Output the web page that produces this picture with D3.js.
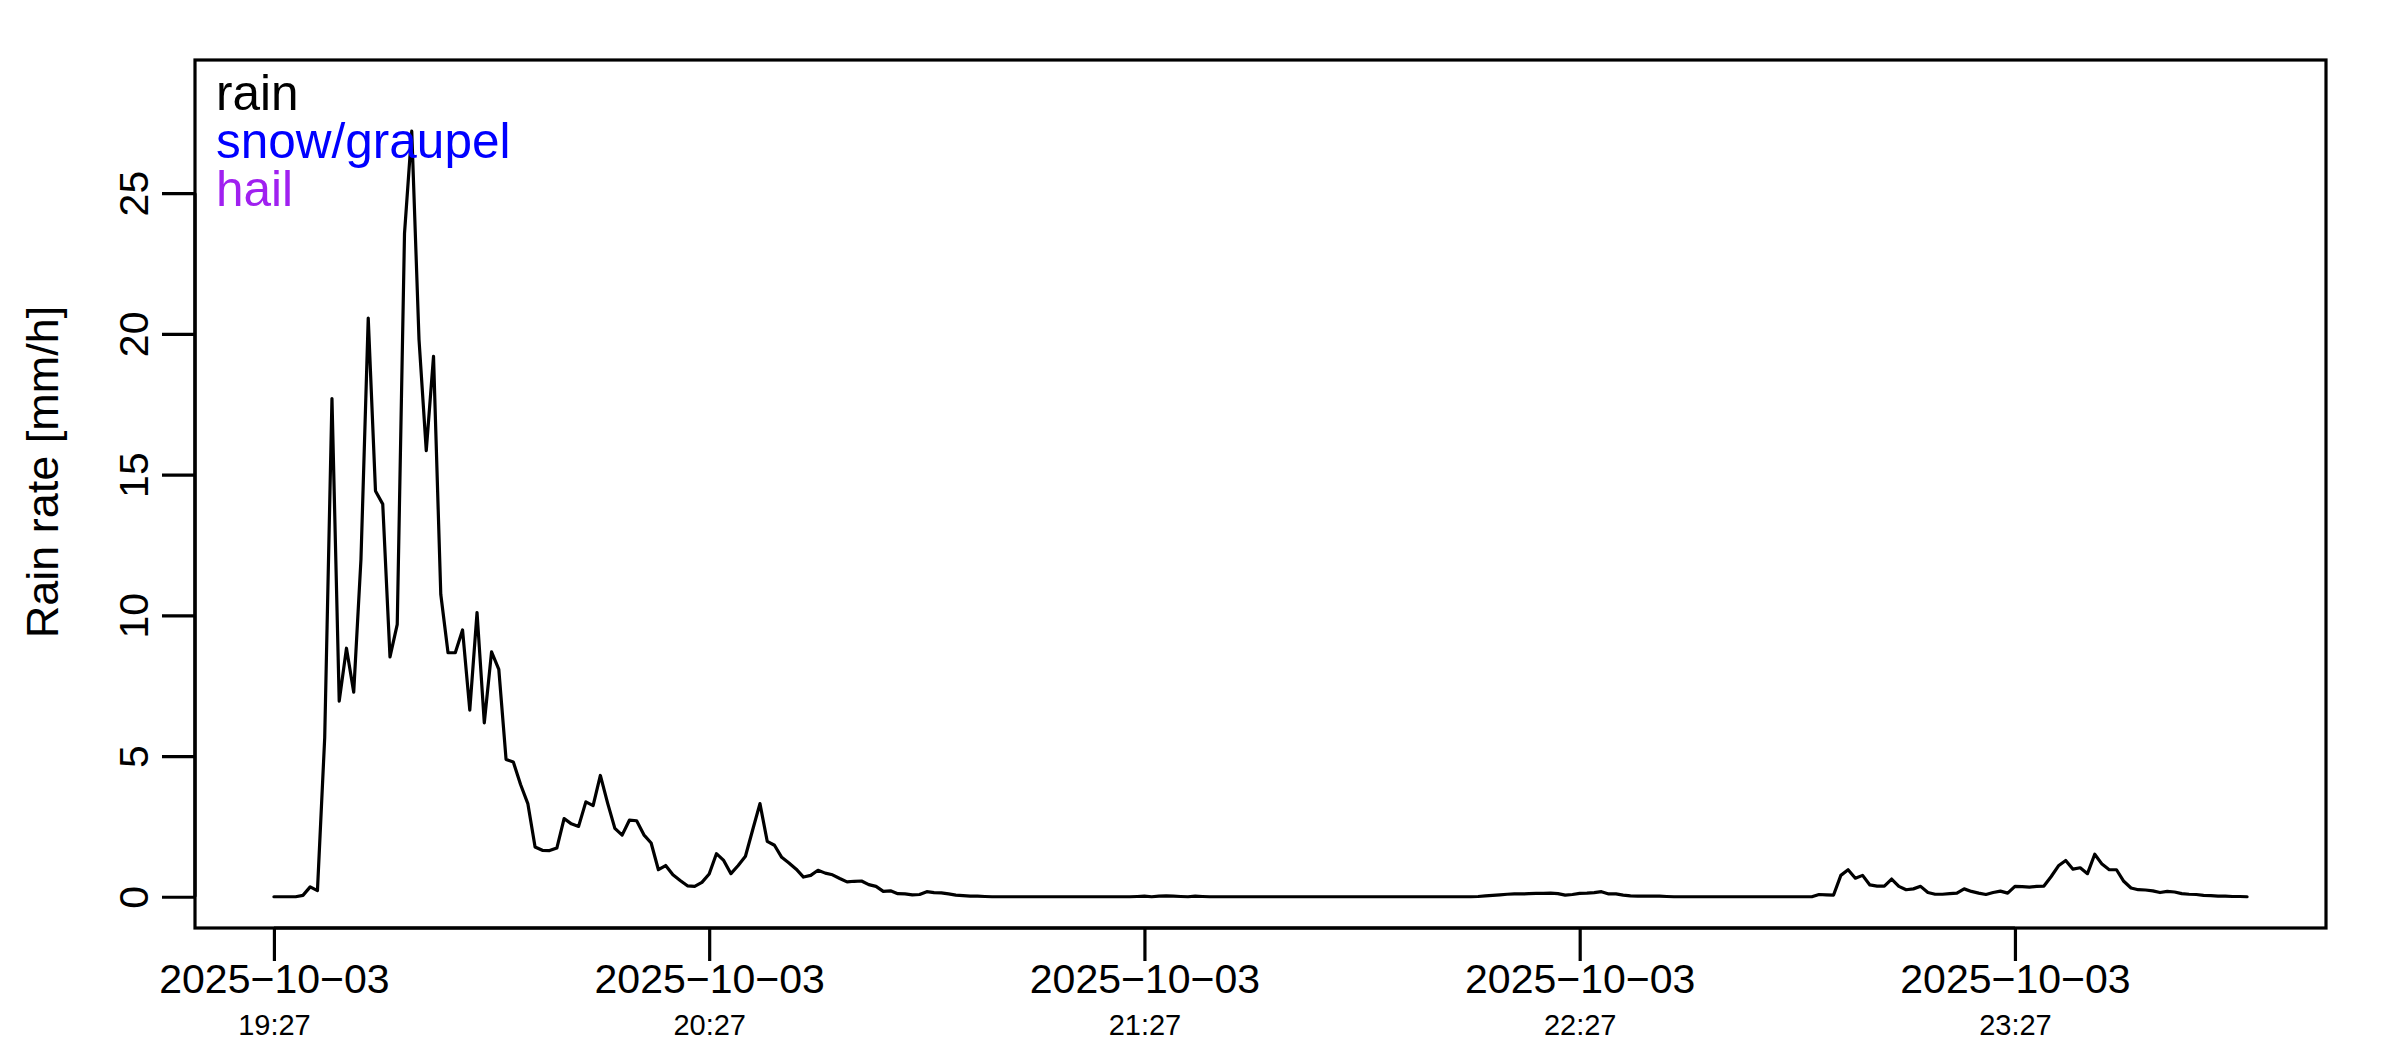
<!DOCTYPE html>
<html>
<head>
<meta charset="utf-8">
<script src="https://cdn.jsdelivr.net/npm/d3@7"></script>
<style>
  html, body { margin: 0; padding: 0; background: #fff; }
  svg { display: block; font-family: "Liberation Sans", Arial, Helvetica, sans-serif; }
</style>
</head>
<body>
<svg id="chart" width="2400" height="1050"></svg>
<script>
// ---- data (one value per minute, starting 2025-10-03 19:27) ----
const startTime = "2025-10-03T19:27:00Z";
const stepMinutes = 1;
const rainRate = [
  0, 0, 0, 0, 0.05, 0.35, 0.22, 5.65, 17.7, 6.95,
  8.83, 7.27, 12.0, 20.56, 14.42, 13.95, 8.52, 9.68, 23.56, 27.2,
  19.8, 15.85, 19.2, 10.75, 8.67, 8.67, 9.48, 6.63, 10.1, 6.18,
  8.7, 8.08, 4.88, 4.79, 3.99, 3.31, 1.77, 1.65, 1.64, 1.73,
  2.78, 2.59, 2.5, 3.37, 3.24, 4.31, 3.33, 2.43, 2.19, 2.72,
  2.7, 2.2, 1.91, 0.96, 1.11, 0.78, 0.58, 0.39, 0.37, 0.51,
  0.81, 1.53, 1.29, 0.82, 1.11, 1.44, 2.38, 3.31, 1.97, 1.83,
  1.4, 1.2, 0.98, 0.7, 0.76, 0.94, 0.84, 0.78, 0.65, 0.53,
  0.55, 0.56, 0.43, 0.37, 0.19, 0.21, 0.11, 0.1, 0.07, 0.08,
  0.18, 0.15, 0.14, 0.1, 0.06, 0.04, 0.02, 0.02, 0.01, 0,
  0, 0, 0, 0, 0, 0, 0, 0, 0, 0,
  0, 0, 0, 0, 0, 0, 0, 0, 0, 0.01,
  0.02, 0, 0.02, 0.03, 0.02, 0.01, 0, 0.02, 0.01, 0,
  0, 0, 0, 0, 0, 0, 0, 0, 0, 0,
  0, 0, 0, 0, 0, 0, 0, 0, 0, 0,
  0, 0, 0, 0, 0, 0, 0, 0, 0, 0,
  0, 0, 0, 0, 0, 0, 0.01, 0.03, 0.05, 0.07,
  0.09, 0.1, 0.1, 0.11, 0.12, 0.12, 0.13, 0.11, 0.06, 0.08,
  0.12, 0.13, 0.15, 0.18, 0.1, 0.1, 0.06, 0.03, 0.02, 0.02,
  0.02, 0.02, 0.01, 0, 0, 0, 0, 0, 0, 0,
  0, 0, 0, 0, 0, 0, 0, 0, 0, 0,
  0, 0, 0, 0.08, 0.07, 0.06, 0.76, 0.96, 0.66, 0.76,
  0.42, 0.38, 0.38, 0.63, 0.37, 0.25, 0.28, 0.37, 0.15, 0.09,
  0.09, 0.11, 0.13, 0.28, 0.19, 0.13, 0.08, 0.15, 0.2, 0.13,
  0.37, 0.36, 0.34, 0.37, 0.38, 0.72, 1.1, 1.29, 0.98, 1.03,
  0.82, 1.51, 1.16, 0.96, 0.96, 0.55, 0.31, 0.25, 0.24, 0.21,
  0.15, 0.19, 0.17, 0.11, 0.09, 0.08, 0.05, 0.04, 0.02, 0.02,
  0.01, 0.01, 0
];

const xTickTimes = ["2025-10-03T19:27:00Z", "2025-10-03T20:27:00Z", "2025-10-03T21:27:00Z", "2025-10-03T22:27:00Z", "2025-10-03T23:27:00Z"];
const xTickDates = ["2025\u221210\u221203", "2025\u221210\u221203", "2025\u221210\u221203", "2025\u221210\u221203", "2025\u221210\u221203"];
const xTickClock = ["19:27", "20:27", "21:27", "22:27", "23:27"];
const yTicks = [0, 5, 10, 15, 20, 25];
const yDomain = [-1.11, 29.73];
const legendLabels = ["rain", "snow/graupel", "hail"];
const legendColors = ["#000000", "#0000FF", "#A020F0"];
const yLabel = "Rain rate [mm/h]";

// ---- layout ----
const box = { left: 195, right: 2326, top: 60, bottom: 928 };
const lw = 3.2;

const svg = d3.select("#chart");
svg.append("rect").attr("width", 2400).attr("height", 1050).attr("fill", "#fff");

const t0 = new Date(startTime);
const points = rainRate.map((v, i) => ({ t: new Date(t0.getTime() + i * stepMinutes * 60000), v }));
const tMin = points[0].t, tMax = points[points.length - 1].t;
const pad = 0.04 * (tMax - tMin);

const x = d3.scaleUtc()
  .domain([new Date(tMin.getTime() - pad), new Date(tMax.getTime() + pad)])
  .range([box.left, box.right]);
const y = d3.scaleLinear().domain(yDomain).range([box.bottom, box.top]);

// data line
const line = d3.line().x(d => x(d.t)).y(d => y(d.v));
svg.append("path")
  .datum(points)
  .attr("d", line)
  .attr("fill", "none")
  .attr("stroke", "#000")
  .attr("stroke-width", lw)
  .attr("stroke-linejoin", "round")
  .attr("stroke-linecap", "round");

// box
svg.append("rect")
  .attr("x", box.left).attr("y", box.top)
  .attr("width", box.right - box.left).attr("height", box.bottom - box.top)
  .attr("fill", "none").attr("stroke", "#000").attr("stroke-width", lw);

// x axis
const xTickDatesObj = xTickTimes.map(s => new Date(s));
const xAxis = d3.axisBottom(x).tickValues(xTickDatesObj).tickSize(33).tickSizeOuter(0).tickFormat("");
const gx = svg.append("g").attr("transform", `translate(0,${box.bottom})`).call(xAxis);
gx.select(".domain").remove();
gx.selectAll(".tick line").attr("stroke", "#000").attr("stroke-width", lw);
gx.append("line")
  .attr("x1", x(xTickDatesObj[0])).attr("x2", x(xTickDatesObj[xTickDatesObj.length - 1]))
  .attr("y1", 0).attr("y2", 0).attr("stroke", "#000").attr("stroke-width", lw);
gx.selectAll(".tick").each(function(d, i) {
  const g = d3.select(this);
  g.select("text").remove();
  g.append("text").attr("y", 65).attr("text-anchor", "middle")
    .attr("font-size", 41).attr("fill", "#000").text(xTickDates[i]);
  g.append("text").attr("y", 107).attr("text-anchor", "middle")
    .attr("font-size", 29).attr("fill", "#000").text(xTickClock[i]);
});

// y axis
const yAxis = d3.axisLeft(y).tickValues(yTicks).tickSize(33).tickSizeOuter(0).tickFormat(d3.format("d"));
const gy = svg.append("g").attr("transform", `translate(${box.left},0)`).call(yAxis);
gy.select(".domain").remove();
gy.selectAll(".tick line").attr("stroke", "#000").attr("stroke-width", lw);
gy.append("line")
  .attr("x1", 0).attr("x2", 0)
  .attr("y1", y(yTicks[0])).attr("y2", y(yTicks[yTicks.length - 1]))
  .attr("stroke", "#000").attr("stroke-width", lw);
gy.selectAll(".tick text")
  .attr("x", null).attr("dy", null)
  .attr("transform", "translate(-47,0) rotate(-90)")
  .attr("text-anchor", "middle")
  .attr("font-size", 41)
  .attr("font-family", "Liberation Sans, Arial, sans-serif")
  .attr("fill", "#000");

// y label
svg.append("text")
  .attr("transform", `translate(58,472) rotate(-90)`)
  .attr("text-anchor", "middle")
  .attr("font-size", 45)
  .attr("fill", "#000")
  .text(yLabel);

// legend
const legendBaselines = [110, 158, 206];
svg.append("g").selectAll("text")
  .data(legendLabels)
  .join("text")
  .attr("x", 216)
  .attr("y", (d, i) => legendBaselines[i])
  .attr("font-size", 49.5)
  .attr("fill", (d, i) => legendColors[i])
  .text(d => d);
</script>
</body>
</html>
